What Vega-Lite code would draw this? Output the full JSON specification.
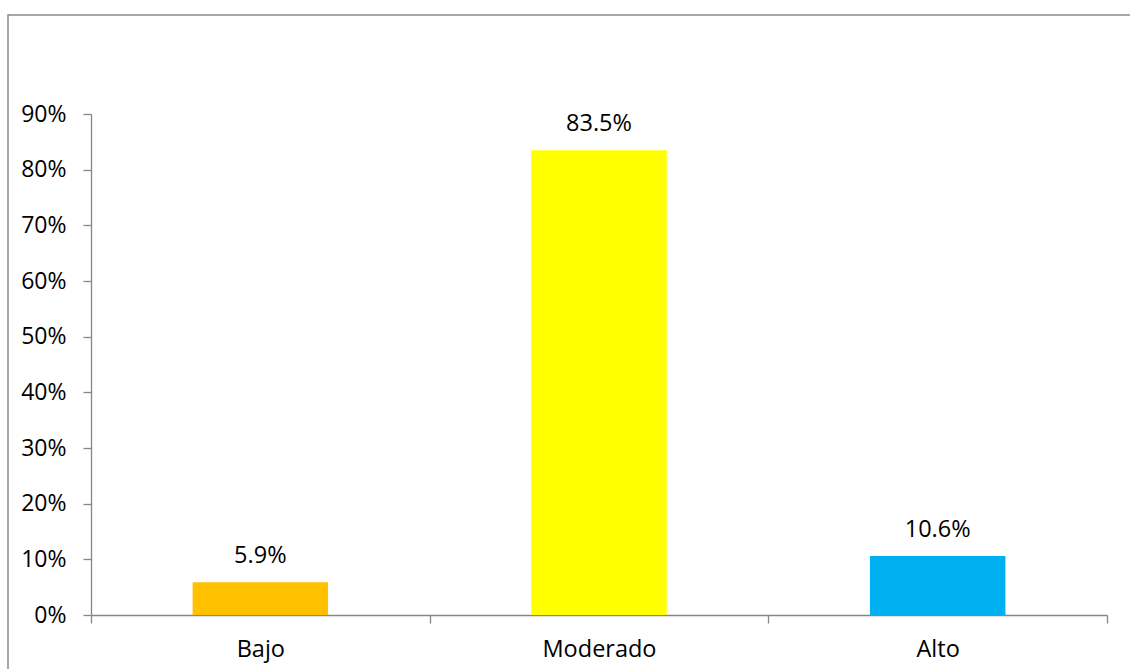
{
  "$schema": "https://vega.github.io/schema/vega-lite/v6.json",
  "width": 1130,
  "height": 660,
  "autosize": "none",
  "padding": {"left": 8, "top": 15, "right": 0, "bottom": 0},
  "background": "white",
  "config": {"view": {"stroke": "#8a8a8a", "strokeWidth": 1.5}, "font": "Open Sans"},
  "data": {"values": [
    {"nivel": "Bajo", "pct": 0.059},
    {"nivel": "Moderado", "pct": 0.835},
    {"nivel": "Alto", "pct": 0.106}
  ]},
  "encoding": {
    "x": {
      "field": "nivel", "type": "nominal", "sort": null,
      "scale": {"range": [83, 1099], "paddingInner": 0, "paddingOuter": 0},
      "axis": {
        "title": null, "orient": "bottom", "offset": -60, "labelAngle": 0,
        "tickBand": "extent", "tickSize": 8, "tickWidth": 1.3, "tickColor": "#868686",
        "domainColor": "#868686", "domainWidth": 1.3,
        "labelPadding": 14, "labelFontSize": 23.5, "labelColor": "black", "labelFont": "Open Sans", "grid": false
      }
    },
    "y": {
      "field": "pct", "type": "quantitative",
      "scale": {"domain": [0, 0.9], "range": [600, 99], "nice": false, "zero": true},
      "axis": {
        "title": null, "orient": "left", "offset": -83,
        "values": [0, 0.1, 0.2, 0.3, 0.4, 0.5, 0.6, 0.7, 0.8, 0.9], "format": ".0%",
        "grid": false, "tickSize": 8, "tickWidth": 1.3, "tickColor": "#868686",
        "domainColor": "#868686", "domainWidth": 1.3,
        "labelPadding": 17, "labelFontSize": 23, "labelColor": "black", "labelFont": "Open Sans"
      }
    }
  },
  "layer": [
    {
      "mark": {"type": "bar", "width": {"band": 0.4}},
      "encoding": {
        "color": {
          "field": "nivel", "type": "nominal",
          "scale": {"domain": ["Bajo", "Moderado", "Alto"], "range": ["#FFC000", "#FFFF00", "#00B0F0"]},
          "legend": null
        }
      }
    },
    {
      "mark": {"type": "text", "dy": -19, "baseline": "alphabetic", "fontSize": 23.5, "font": "Open Sans", "color": "black"},
      "encoding": {"text": {"field": "pct", "type": "quantitative", "format": ".1%"}}
    }
  ]
}
